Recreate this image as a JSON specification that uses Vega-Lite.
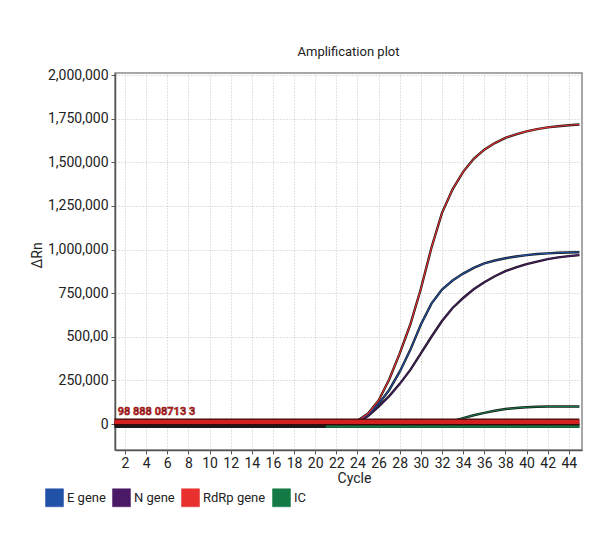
{
  "$schema": "https://vega.github.io/schema/vega-lite/v6.json",
  "width": 467,
  "height": 377,
  "autosize": "none",
  "padding": {"left": 115, "top": 73, "right": 15, "bottom": 97},
  "background": "white",
  "title": {"text": "Amplification plot", "fontSize": 13, "fontWeight": "normal", "font": "Roboto", "color": "#222", "anchor": "middle", "offset": 9},
  "datasets": {
    "curves": [
      {"cycle": 1, "value": 3000, "gene": "E gene", "well": "E1"},
      {"cycle": 23, "value": 3000, "gene": "E gene", "well": "E1"},
      {"cycle": 24, "value": 12000, "gene": "E gene", "well": "E1"},
      {"cycle": 25, "value": 55000, "gene": "E gene", "well": "E1"},
      {"cycle": 26, "value": 115000, "gene": "E gene", "well": "E1"},
      {"cycle": 27, "value": 195000, "gene": "E gene", "well": "E1"},
      {"cycle": 28, "value": 300000, "gene": "E gene", "well": "E1"},
      {"cycle": 29, "value": 425000, "gene": "E gene", "well": "E1"},
      {"cycle": 30, "value": 570000, "gene": "E gene", "well": "E1"},
      {"cycle": 31, "value": 690000, "gene": "E gene", "well": "E1"},
      {"cycle": 32, "value": 770000, "gene": "E gene", "well": "E1"},
      {"cycle": 33, "value": 822000, "gene": "E gene", "well": "E1"},
      {"cycle": 34, "value": 862000, "gene": "E gene", "well": "E1"},
      {"cycle": 35, "value": 895000, "gene": "E gene", "well": "E1"},
      {"cycle": 36, "value": 920000, "gene": "E gene", "well": "E1"},
      {"cycle": 37, "value": 937000, "gene": "E gene", "well": "E1"},
      {"cycle": 38, "value": 950000, "gene": "E gene", "well": "E1"},
      {"cycle": 39, "value": 960000, "gene": "E gene", "well": "E1"},
      {"cycle": 40, "value": 968000, "gene": "E gene", "well": "E1"},
      {"cycle": 41, "value": 974000, "gene": "E gene", "well": "E1"},
      {"cycle": 42, "value": 978000, "gene": "E gene", "well": "E1"},
      {"cycle": 43, "value": 981000, "gene": "E gene", "well": "E1"},
      {"cycle": 44, "value": 983000, "gene": "E gene", "well": "E1"},
      {"cycle": 45, "value": 984000, "gene": "E gene", "well": "E1"},

      {"cycle": 1, "value": 3000, "gene": "N gene", "well": "N1"},
      {"cycle": 23, "value": 3000, "gene": "N gene", "well": "N1"},
      {"cycle": 24, "value": 10000, "gene": "N gene", "well": "N1"},
      {"cycle": 25, "value": 45000, "gene": "N gene", "well": "N1"},
      {"cycle": 26, "value": 100000, "gene": "N gene", "well": "N1"},
      {"cycle": 27, "value": 160000, "gene": "N gene", "well": "N1"},
      {"cycle": 28, "value": 230000, "gene": "N gene", "well": "N1"},
      {"cycle": 29, "value": 310000, "gene": "N gene", "well": "N1"},
      {"cycle": 30, "value": 405000, "gene": "N gene", "well": "N1"},
      {"cycle": 31, "value": 500000, "gene": "N gene", "well": "N1"},
      {"cycle": 32, "value": 590000, "gene": "N gene", "well": "N1"},
      {"cycle": 33, "value": 665000, "gene": "N gene", "well": "N1"},
      {"cycle": 34, "value": 722000, "gene": "N gene", "well": "N1"},
      {"cycle": 35, "value": 772000, "gene": "N gene", "well": "N1"},
      {"cycle": 36, "value": 812000, "gene": "N gene", "well": "N1"},
      {"cycle": 37, "value": 847000, "gene": "N gene", "well": "N1"},
      {"cycle": 38, "value": 876000, "gene": "N gene", "well": "N1"},
      {"cycle": 39, "value": 897000, "gene": "N gene", "well": "N1"},
      {"cycle": 40, "value": 916000, "gene": "N gene", "well": "N1"},
      {"cycle": 41, "value": 931000, "gene": "N gene", "well": "N1"},
      {"cycle": 42, "value": 945000, "gene": "N gene", "well": "N1"},
      {"cycle": 43, "value": 955000, "gene": "N gene", "well": "N1"},
      {"cycle": 44, "value": 962000, "gene": "N gene", "well": "N1"},
      {"cycle": 45, "value": 968000, "gene": "N gene", "well": "N1"},

      {"cycle": 1, "value": 5000, "gene": "RdRp gene", "well": "R1"},
      {"cycle": 23, "value": 5000, "gene": "RdRp gene", "well": "R1"},
      {"cycle": 24, "value": 18000, "gene": "RdRp gene", "well": "R1"},
      {"cycle": 25, "value": 60000, "gene": "RdRp gene", "well": "R1"},
      {"cycle": 26, "value": 135000, "gene": "RdRp gene", "well": "R1"},
      {"cycle": 27, "value": 255000, "gene": "RdRp gene", "well": "R1"},
      {"cycle": 28, "value": 405000, "gene": "RdRp gene", "well": "R1"},
      {"cycle": 29, "value": 570000, "gene": "RdRp gene", "well": "R1"},
      {"cycle": 30, "value": 775000, "gene": "RdRp gene", "well": "R1"},
      {"cycle": 31, "value": 1010000, "gene": "RdRp gene", "well": "R1"},
      {"cycle": 32, "value": 1210000, "gene": "RdRp gene", "well": "R1"},
      {"cycle": 33, "value": 1345000, "gene": "RdRp gene", "well": "R1"},
      {"cycle": 34, "value": 1445000, "gene": "RdRp gene", "well": "R1"},
      {"cycle": 35, "value": 1520000, "gene": "RdRp gene", "well": "R1"},
      {"cycle": 36, "value": 1572000, "gene": "RdRp gene", "well": "R1"},
      {"cycle": 37, "value": 1610000, "gene": "RdRp gene", "well": "R1"},
      {"cycle": 38, "value": 1640000, "gene": "RdRp gene", "well": "R1"},
      {"cycle": 39, "value": 1660000, "gene": "RdRp gene", "well": "R1"},
      {"cycle": 40, "value": 1677000, "gene": "RdRp gene", "well": "R1"},
      {"cycle": 41, "value": 1690000, "gene": "RdRp gene", "well": "R1"},
      {"cycle": 42, "value": 1700000, "gene": "RdRp gene", "well": "R1"},
      {"cycle": 43, "value": 1706000, "gene": "RdRp gene", "well": "R1"},
      {"cycle": 44, "value": 1712000, "gene": "RdRp gene", "well": "R1"},
      {"cycle": 45, "value": 1716000, "gene": "RdRp gene", "well": "R1"},

      {"cycle": 1, "value": 2000, "gene": "IC", "well": "IC1"},
      {"cycle": 32, "value": 4000, "gene": "IC", "well": "IC1"},
      {"cycle": 33, "value": 17000, "gene": "IC", "well": "IC1"},
      {"cycle": 34, "value": 34000, "gene": "IC", "well": "IC1"},
      {"cycle": 35, "value": 50000, "gene": "IC", "well": "IC1"},
      {"cycle": 36, "value": 64000, "gene": "IC", "well": "IC1"},
      {"cycle": 37, "value": 76000, "gene": "IC", "well": "IC1"},
      {"cycle": 38, "value": 86000, "gene": "IC", "well": "IC1"},
      {"cycle": 39, "value": 92000, "gene": "IC", "well": "IC1"},
      {"cycle": 40, "value": 96000, "gene": "IC", "well": "IC1"},
      {"cycle": 41, "value": 99000, "gene": "IC", "well": "IC1"},
      {"cycle": 42, "value": 100000, "gene": "IC", "well": "IC1"},
      {"cycle": 43, "value": 100000, "gene": "IC", "well": "IC1"},
      {"cycle": 44, "value": 100000, "gene": "IC", "well": "IC1"},
      {"cycle": 45, "value": 100000, "gene": "IC", "well": "IC1"}
    ],
    "baseline": [
      {"cycle": 1, "value": -10000, "gene": "IC", "well": "ICneg"},
      {"cycle": 21, "value": -10000, "gene": "IC", "well": "ICneg"},
      {"cycle": 45, "value": -10000, "gene": "IC", "well": "ICneg"},
      {"cycle": 1, "value": 12000, "gene": "RdRp gene", "well": "Rneg"},
      {"cycle": 45, "value": 12000, "gene": "RdRp gene", "well": "Rneg"}
    ],
    "labels": [
      {"cycle": 1.3, "value": 70000, "text": "98 888 08713 3"}
    ]
  },
  "encoding": {
    "x": {
      "field": "cycle", "type": "quantitative",
      "scale": {"domain": [1.05, 45.25], "nice": false, "zero": false},
      "axis": {
        "title": "Cycle", "values": [2,4,6,8,10,12,14,16,18,20,22,24,26,28,30,32,34,36,38,40,42,44],
        "titleX": 239, "titleY": 28, "titleAlign": "center", "titleBaseline": "middle"
      }
    },
    "y": {
      "field": "value", "type": "quantitative",
      "scale": {"domain": [-149000, 2011500], "nice": false, "zero": false},
      "axis": {
        "title": "ΔRn", "values": [0,250000,500000,750000,1000000,1250000,1500000,1750000,2000000],
        "labelExpr": "datum.value == 500000 ? '500,00' : format(datum.value, ',')",
        "titleX": -78, "titleY": 182, "titleAngle": 270, "titleAlign": "center", "titleBaseline": "middle"
      }
    }
  },
  "layer": [
    {
      "data": {"name": "baseline"},
      "transform": [{"filter": "datum.well == 'ICneg'"}],
      "mark": {"type": "line", "color": "#1a1a1a", "strokeWidth": 4.5},
      "encoding": {"detail": {"field": "well"}}
    },
    {
      "data": {"name": "baseline"},
      "transform": [{"filter": "datum.well == 'ICneg' && datum.cycle >= 21"}],
      "mark": {"type": "line", "color": "#137a45", "strokeWidth": 4}
    },
    {
      "data": {"name": "curves"},
      "mark": {"type": "line", "color": "#1a1a1a", "strokeWidth": 2.4},
      "encoding": {"detail": {"field": "well"}}
    },
    {
      "data": {"name": "curves"},
      "mark": {"type": "line", "strokeWidth": 1.1},
      "encoding": {
        "detail": {"field": "well"},
        "color": {
          "field": "gene", "type": "nominal",
          "scale": {"domain": ["E gene", "N gene", "RdRp gene", "IC"], "range": ["#2152a8", "#4a1a66", "#e8302e", "#137a45"]},
          "legend": {
            "title": null, "orient": "none", "direction": "horizontal", "legendX": -70, "legendY": 415,
            "symbolType": "square", "symbolSize": 324, "symbolStrokeWidth": 0.5, "symbolStrokeColor": "#888",
            "labelFontSize": 13, "labelFont": "Roboto", "labelColor": "#222", "labelOffset": 3, "columnPadding": 5,
            "encode": {"symbols": {"update": {"fill": {"scale": "color", "field": "value"}, "fillOpacity": {"value": 1}, "stroke": {"value": "#999"}, "strokeWidth": {"value": 0.5}}}}
          }
        }
      }
    },
    {
      "data": {"name": "baseline"},
      "transform": [{"filter": "datum.well == 'Rneg'"}],
      "mark": {"type": "line", "color": "#3a0a0a", "strokeWidth": 7}
    },
    {
      "data": {"name": "baseline"},
      "transform": [{"filter": "datum.well == 'Rneg'"}],
      "mark": {"type": "line", "color": "#d42020", "strokeWidth": 4.2}
    },
    {
      "data": {"name": "labels"},
      "mark": {"type": "text", "align": "left", "baseline": "middle", "color": "#d42020", "fontSize": 11, "fontWeight": "bold", "font": "Roboto", "stroke": "#5a0a0a", "strokeWidth": 0.4},
      "encoding": {"text": {"field": "text"}}
    }
  ],
  "config": {
    "view": {"stroke": "#8a8a8a", "strokeWidth": 1.5},
    "axis": {
      "labelFont": "Roboto", "titleFont": "Roboto",
      "labelFontSize": 14, "titleFontSize": 14, "titleFontWeight": "normal",
      "labelColor": "#222", "titleColor": "#222",
      "grid": true, "gridColor": "#c4c4c4", "gridDash": [1, 2], "gridWidth": 1,
      "tickColor": "#555", "tickSize": 4, "domainColor": "#555", "domainWidth": 1.5
    },
    "axisX": {"labelPadding": 2},
    "axisY": {"labelPadding": 3}
  }
}
